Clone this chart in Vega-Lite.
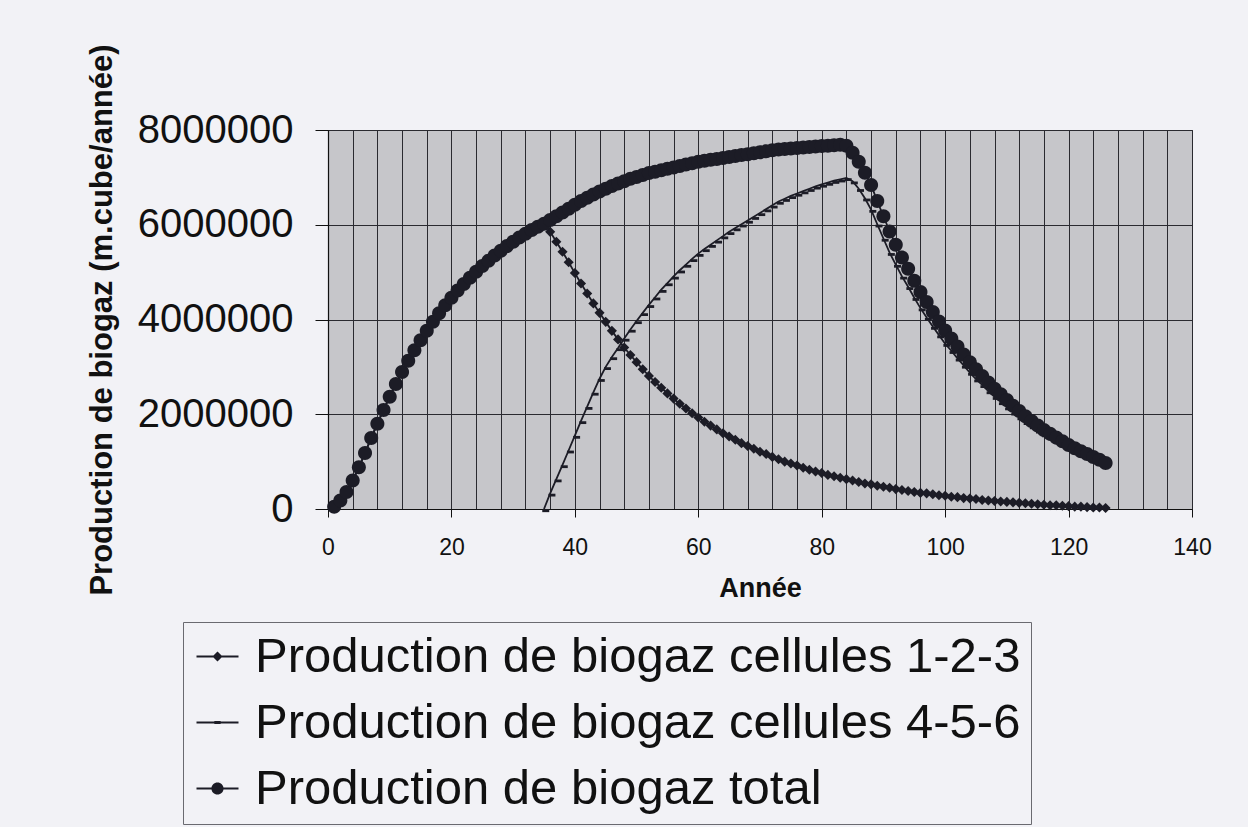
{
  "$schema": "https://vega.github.io/schema/vega-lite/v6.json",
  "width": 864,
  "height": 379,
  "autosize": {"type": "none"},
  "padding": {"left": 328, "top": 130, "right": 56, "bottom": 318},
  "background": "#f2f2f6",
  "config": {
    "font": "Liberation Sans",
    "view": {"fill": "#c6c6ca", "stroke": "#222222", "strokeWidth": 1}
  },
  "data": {"values": [
    {"annee":1,"c123":50000,"total":50000},
    {"annee":2,"c123":180000,"total":180000},
    {"annee":3,"c123":360000,"total":360000},
    {"annee":4,"c123":600000,"total":600000},
    {"annee":5,"c123":880000,"total":880000},
    {"annee":6,"c123":1180000,"total":1180000},
    {"annee":7,"c123":1500000,"total":1500000},
    {"annee":8,"c123":1800000,"total":1800000},
    {"annee":9,"c123":2090000,"total":2090000},
    {"annee":10,"c123":2370000,"total":2370000},
    {"annee":11,"c123":2640000,"total":2640000},
    {"annee":12,"c123":2890000,"total":2890000},
    {"annee":13,"c123":3130000,"total":3130000},
    {"annee":14,"c123":3350000,"total":3350000},
    {"annee":15,"c123":3560000,"total":3560000},
    {"annee":16,"c123":3760000,"total":3760000},
    {"annee":17,"c123":3950000,"total":3950000},
    {"annee":18,"c123":4130000,"total":4130000},
    {"annee":19,"c123":4300000,"total":4300000},
    {"annee":20,"c123":4460000,"total":4460000},
    {"annee":21,"c123":4610000,"total":4610000},
    {"annee":22,"c123":4750000,"total":4750000},
    {"annee":23,"c123":4880000,"total":4880000},
    {"annee":24,"c123":5010000,"total":5010000},
    {"annee":25,"c123":5130000,"total":5130000},
    {"annee":26,"c123":5240000,"total":5240000},
    {"annee":27,"c123":5350000,"total":5350000},
    {"annee":28,"c123":5450000,"total":5450000},
    {"annee":29,"c123":5550000,"total":5550000},
    {"annee":30,"c123":5640000,"total":5640000},
    {"annee":31,"c123":5730000,"total":5730000},
    {"annee":32,"c123":5810000,"total":5810000},
    {"annee":33,"c123":5890000,"total":5890000},
    {"annee":34,"c123":5960000,"total":5960000},
    {"annee":35,"c123":6020000,"c456":0,"total":6020000},
    {"annee":36,"c123":5850000,"c456":330000,"total":6100000},
    {"annee":37,"c123":5640000,"c456":630000,"total":6180000},
    {"annee":38,"c123":5430000,"c456":930000,"total":6260000},
    {"annee":39,"c123":5210000,"c456":1240000,"total":6340000},
    {"annee":40,"c123":4980000,"c456":1550000,"total":6420000},
    {"annee":41,"c123":4760000,"c456":1860000,"total":6500000},
    {"annee":42,"c123":4550000,"c456":2160000,"total":6570000},
    {"annee":43,"c123":4340000,"c456":2460000,"total":6640000},
    {"annee":44,"c123":4140000,"c456":2750000,"total":6700000},
    {"annee":45,"c123":3950000,"c456":3000000,"total":6760000},
    {"annee":46,"c123":3760000,"c456":3210000,"total":6820000},
    {"annee":47,"c123":3580000,"c456":3400000,"total":6870000},
    {"annee":48,"c123":3410000,"c456":3600000,"total":6920000},
    {"annee":49,"c123":3250000,"c456":3790000,"total":6970000},
    {"annee":50,"c123":3100000,"c456":3970000,"total":7010000},
    {"annee":51,"c123":2950000,"c456":4140000,"total":7050000},
    {"annee":52,"c123":2810000,"c456":4310000,"total":7090000},
    {"annee":53,"c123":2680000,"c456":4470000,"total":7120000},
    {"annee":54,"c123":2560000,"c456":4630000,"total":7150000},
    {"annee":55,"c123":2440000,"c456":4770000,"total":7180000},
    {"annee":56,"c123":2330000,"c456":4910000,"total":7210000},
    {"annee":57,"c123":2220000,"c456":5040000,"total":7240000},
    {"annee":58,"c123":2120000,"c456":5160000,"total":7270000},
    {"annee":59,"c123":2020000,"c456":5280000,"total":7300000},
    {"annee":60,"c123":1930000,"c456":5390000,"total":7330000},
    {"annee":61,"c123":1840000,"c456":5490000,"total":7350000},
    {"annee":62,"c123":1760000,"c456":5580000,"total":7370000},
    {"annee":63,"c123":1680000,"c456":5670000,"total":7390000},
    {"annee":64,"c123":1600000,"c456":5760000,"total":7410000},
    {"annee":65,"c123":1530000,"c456":5850000,"total":7430000},
    {"annee":66,"c123":1460000,"c456":5930000,"total":7450000},
    {"annee":67,"c123":1390000,"c456":6010000,"total":7470000},
    {"annee":68,"c123":1330000,"c456":6090000,"total":7490000},
    {"annee":69,"c123":1270000,"c456":6170000,"total":7510000},
    {"annee":70,"c123":1210000,"c456":6250000,"total":7530000},
    {"annee":71,"c123":1160000,"c456":6330000,"total":7550000},
    {"annee":72,"c123":1100000,"c456":6410000,"total":7570000},
    {"annee":73,"c123":1050000,"c456":6490000,"total":7590000},
    {"annee":74,"c123":1000000,"c456":6550000,"total":7600000},
    {"annee":75,"c123":960000,"c456":6610000,"total":7610000},
    {"annee":76,"c123":920000,"c456":6660000,"total":7620000},
    {"annee":77,"c123":870000,"c456":6710000,"total":7630000},
    {"annee":78,"c123":830000,"c456":6760000,"total":7640000},
    {"annee":79,"c123":790000,"c456":6810000,"total":7650000},
    {"annee":80,"c123":760000,"c456":6850000,"total":7660000},
    {"annee":81,"c123":720000,"c456":6890000,"total":7670000},
    {"annee":82,"c123":690000,"c456":6930000,"total":7680000},
    {"annee":83,"c123":660000,"c456":6960000,"total":7690000},
    {"annee":84,"c123":630000,"c456":6990000,"total":7670000},
    {"annee":85,"c123":600000,"c456":6920000,"total":7520000},
    {"annee":86,"c123":570000,"c456":6760000,"total":7330000},
    {"annee":87,"c123":540000,"c456":6560000,"total":7100000},
    {"annee":88,"c123":520000,"c456":6320000,"total":6840000},
    {"annee":89,"c123":490000,"c456":6010000,"total":6500000},
    {"annee":90,"c123":470000,"c456":5710000,"total":6180000},
    {"annee":91,"c123":450000,"c456":5410000,"total":5860000},
    {"annee":92,"c123":420000,"c456":5160000,"total":5580000},
    {"annee":93,"c123":400000,"c456":4910000,"total":5310000},
    {"annee":94,"c123":380000,"c456":4690000,"total":5070000},
    {"annee":95,"c123":360000,"c456":4460000,"total":4820000},
    {"annee":96,"c123":340000,"c456":4240000,"total":4580000},
    {"annee":97,"c123":330000,"c456":4040000,"total":4370000},
    {"annee":98,"c123":310000,"c456":3850000,"total":4160000},
    {"annee":99,"c123":290000,"c456":3670000,"total":3960000},
    {"annee":100,"c123":280000,"c456":3490000,"total":3770000},
    {"annee":101,"c123":260000,"c456":3340000,"total":3600000},
    {"annee":102,"c123":250000,"c456":3180000,"total":3430000},
    {"annee":103,"c123":230000,"c456":3030000,"total":3260000},
    {"annee":104,"c123":220000,"c456":2880000,"total":3100000},
    {"annee":105,"c123":210000,"c456":2740000,"total":2950000},
    {"annee":106,"c123":190000,"c456":2620000,"total":2810000},
    {"annee":107,"c123":180000,"c456":2490000,"total":2670000},
    {"annee":108,"c123":170000,"c456":2370000,"total":2540000},
    {"annee":109,"c123":160000,"c456":2260000,"total":2420000},
    {"annee":110,"c123":150000,"c456":2150000,"total":2300000},
    {"annee":111,"c123":140000,"c456":2040000,"total":2180000},
    {"annee":112,"c123":130000,"c456":1940000,"total":2070000},
    {"annee":113,"c123":120000,"c456":1840000,"total":1960000},
    {"annee":114,"c123":110000,"c456":1750000,"total":1860000},
    {"annee":115,"c123":100000,"c456":1660000,"total":1760000},
    {"annee":116,"c123":90000,"c456":1580000,"total":1670000},
    {"annee":117,"c123":80000,"c456":1510000,"total":1590000},
    {"annee":118,"c123":80000,"c456":1430000,"total":1510000},
    {"annee":119,"c123":70000,"c456":1360000,"total":1430000},
    {"annee":120,"c123":60000,"c456":1290000,"total":1350000},
    {"annee":121,"c123":50000,"c456":1230000,"total":1280000},
    {"annee":122,"c123":50000,"c456":1170000,"total":1220000},
    {"annee":123,"c123":40000,"c456":1120000,"total":1160000},
    {"annee":124,"c123":30000,"c456":1070000,"total":1100000},
    {"annee":125,"c123":30000,"c456":1010000,"total":1040000},
    {"annee":126,"c123":20000,"c456":950000,"total":970000}
  ]},
  "transform": [
    {"fold": ["c123", "c456", "total"], "as": ["serie", "valeur"]},
    {"filter": "isValid(datum.valeur)"}
  ],
  "encoding": {
    "x": {
      "field": "annee", "type": "quantitative",
      "scale": {"domain": [0, 140], "nice": false, "zero": false},
      "axis": {
        "values": [0,4,8,12,16,20,24,28,32,36,40,44,48,52,56,60,64,68,72,76,80,84,88,92,96,100,104,108,112,116,120,124,128,132,136,140],
        "grid": true, "gridColor": "#2a2a30", "gridWidth": 1, "gridOpacity": 1,
        "tickSize": 8, "tickColor": "#111111",
        "tickOpacity": {"condition": {"test": "datum.value % 20 === 0", "value": 1}, "value": 0},
        "labelExpr": "datum.value % 20 === 0 ? datum.label : ''",
        "labelOverlap": false, "labelFlush": false,
        "labelFontSize": 23, "labelColor": "#111111", "labelPadding": 19,
        "domainColor": "#111111", "domainWidth": 1.2,
        "title": "Année", "titleFontSize": 27, "titleFontWeight": "bold", "titleColor": "#111111", "titlePadding": 16
      }
    },
    "y": {
      "field": "valeur", "type": "quantitative",
      "scale": {"domain": [0, 8000000], "nice": false},
      "axis": {
        "values": [0, 2000000, 4000000, 6000000, 8000000],
        "format": "d",
        "grid": true, "gridColor": "#2a2a30", "gridWidth": 1, "gridOpacity": 1,
        "tickSize": 13, "tickColor": "#111111",
        "labelFontSize": 40, "labelColor": "#111111", "labelPadding": 22,
        "domainColor": "#111111", "domainWidth": 1.2,
        "title": "Production de biogaz (m.cube/année)", "titleFontSize": 31, "titleFontWeight": "bold", "titleColor": "#111111", "titlePadding": 19
      }
    }
  },
  "layer": [
    {
      "mark": {"type": "line", "color": "#1c1c26", "strokeWidth": 1.8},
      "encoding": {"detail": {"field": "serie", "type": "nominal"}}
    },
    {
      "mark": {"type": "point", "filled": true, "color": "#1c1c26", "opacity": 1, "size": 196},
      "encoding": {
        "order": {"field": "serie", "type": "nominal"},
        "shape": {
          "field": "serie", "type": "nominal",
          "scale": {
            "domain": ["c123", "c456", "total"],
            "range": [
              "M0,-0.72L0.72,0L0,0.72L-0.72,0Z",
              "M-0.25,0.05H0.75V0.45H-0.25Z",
              "M-1,0A1,1 0 1,0 1,0A1,1 0 1,0 -1,0Z"
            ]
          },
          "legend": null
        }
      }
    },
    {
      "transform": [{"filter": "datum.annee < 0"}],
      "mark": {"type": "point", "filled": true, "color": "#1c1c26", "opacity": 1, "size": 1764},
      "encoding": {
        "shape": {
          "field": "serie", "type": "nominal",
          "scale": {
            "domain": ["c123", "c456", "total"],
            "range": [
              "M-1,-0.045H1V0.045H-1ZM0,-0.24L0.24,0L0,0.24L-0.24,0Z",
              "M-1,-0.045H1V0.045H-1ZM-0.15,-0.075H0.15V0.075H-0.15Z",
              "M-1,-0.045H1V0.045H-1ZM-0.29,0A0.29,0.29 0 1,1 0.29,0A0.29,0.29 0 1,1 -0.29,0Z"
            ]
          },
          "legend": {
            "orient": "none", "legendX": -145, "legendY": 492,
            "title": null,
            "labelExpr": "datum.label == 'c123' ? 'Production de biogaz cellules 1-2-3' : datum.label == 'c456' ? 'Production de biogaz cellules 4-5-6' : 'Production de biogaz total'",
            "labelFontSize": 49, "labelColor": "#111111", "labelLimit": 2000, "labelOffset": 13,
            "symbolSize": 1764, "symbolFillColor": "#1c1c26", "symbolOpacity": 1,
            "rowPadding": 16, "padding": 10,
            "strokeColor": "#6a6a70", "fillColor": "#f2f2f6"
          }
        }
      }
    }
  ],
  "resolve": {"scale": {"shape": "independent"}, "legend": {"shape": "independent"}}
}
